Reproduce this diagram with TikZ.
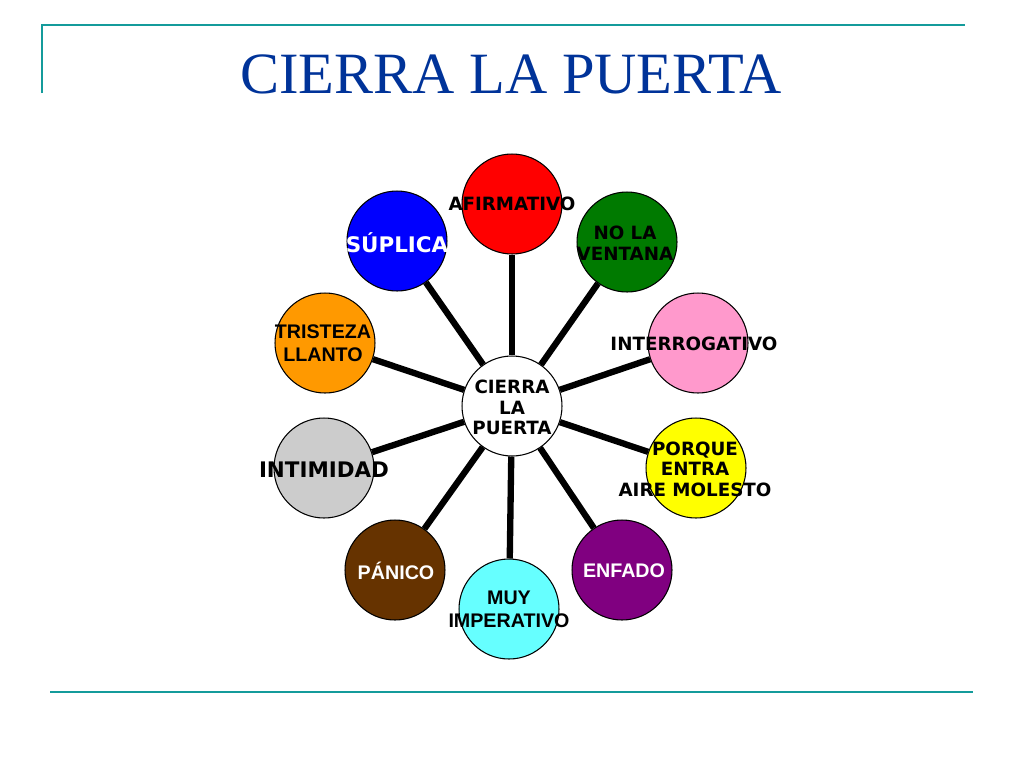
\documentclass[tikz,border=0pt]{standalone}
\usepackage{fontspec}
\setmainfont{Liberation Serif}
\newfontfamily\vfont{DejaVu Sans}
\newfontfamily\afont{Liberation Sans}
\usetikzlibrary{positioning}
\definecolor{frameteal}{RGB}{20,155,155}
\definecolor{titleblue}{RGB}{0,51,153}
\definecolor{cred}{RGB}{255,0,0}
\definecolor{cgreen}{RGB}{0,122,0}
\definecolor{cpink}{RGB}{255,153,204}
\definecolor{cyellow}{RGB}{255,255,0}
\definecolor{cpurple}{RGB}{128,0,128}
\definecolor{ccyan}{RGB}{102,255,255}
\definecolor{cbrown}{RGB}{102,51,0}
\definecolor{cgray}{RGB}{204,204,204}
\definecolor{corange}{RGB}{255,153,0}
\definecolor{cblue}{RGB}{0,0,255}

\begin{document}
\begin{tikzpicture}[
		x=0.02cm, y=-0.02cm,
		bubble/.style={circle, draw, line width=0.6pt, minimum size=2cm, inner sep=0pt},
		vtxt/.style={font=\vfont\bfseries\fontsize{10.4}{11.7}\selectfont, align=center, inner sep=0pt},
		vbig/.style={font=\vfont\bfseries\fontsize{12.2}{14}\selectfont, align=center, inner sep=0pt},
		atxt/.style={font=\afont\bfseries\fontsize{11.2}{13.4}\selectfont, align=center, inner sep=0pt},
		spoke/.style={line width=3.6pt},
		frame/.style={frameteal, line width=1.5pt}
		]
	
		\useasboundingbox (0,0) rectangle (1024,768);
	
		% --- cadre et titre ---
		\draw[frame] (42,93) -- (42,25) -- (965,25);
		\draw[frame] (50,692) -- (973,692);
		\node[titleblue, font=\fontsize{33.3}{38}\selectfont, inner sep=0pt, anchor=base] (ttl) at (511,93) {CIERRA LA PUERTA};
	
		% --- cercles ---
		\node[bubble, fill=white] (C) at (512,406) {};
		\node[bubble, fill=cred] (afi) at (512,204) {};
		\node[bubble, fill=cgreen] (nov) at (627,242) {};
		\node[bubble, fill=cpink] (inter) at (698,343) {};
		\node[bubble, fill=cyellow] (por) at (696,468) {};
		\node[bubble, fill=cpurple] (enf) at (622,570) {};
		\node[bubble, fill=ccyan] (muy) at (509,609) {};
		\node[bubble, fill=cbrown] (pan) at (395,570) {};
		\node[bubble, fill=cgray] (intim) at (324,468) {};
		\node[bubble, fill=corange] (tri) at (325,343) {};
		\node[bubble, fill=cblue] (sup) at (397,241) {};
	
		% --- rayons ---
		\draw[spoke] (C) -- (afi);
		\draw[spoke] (C) -- (nov);
		\draw[spoke] (C) -- (inter);
		\draw[spoke] (C) -- (por);
		\draw[spoke] (C) -- (enf);
		\draw[spoke] (C) -- (muy);
		\draw[spoke] (C) -- (pan);
		\draw[spoke] (C) -- (intim);
		\draw[spoke] (C) -- (tri);
		\draw[spoke] (C) -- (sup);
	
		% --- textes ---
		\node[vtxt] (C-t) at (512,407.5) {CIERRA\\LA\\PUERTA};
		\node[vtxt] (afi-t) at (512,204) {AFIRMATIVO};
		\node[vtxt] (nov-t) at (625,243) {NO LA\\VENTANA};
		\node[vtxt] (inter-t) at (694,344) {INTERROGATIVO};
		\node[vtxt] (por-t) at (695,469) {PORQUE\\ENTRA\\AIRE MOLESTO};
		\node[atxt, white] (enf-t) at (624,571) {ENFADO};
		\node[atxt] (muy-t) at (509,609.5) {MUY\\IMPERATIVO};
		\node[atxt, white] (pan-t) at (396,571) {PÁNICO};
		\node[vbig] (intim-t) at (324,470) {INTIMIDAD};
		\node[atxt] (tri-t) at (323,343) {TRISTEZA\\LLANTO};
		\node[vbig, white] (sup-t) at (397,243) {SÚPLICA};
	
	\end{tikzpicture}
\end{document}
